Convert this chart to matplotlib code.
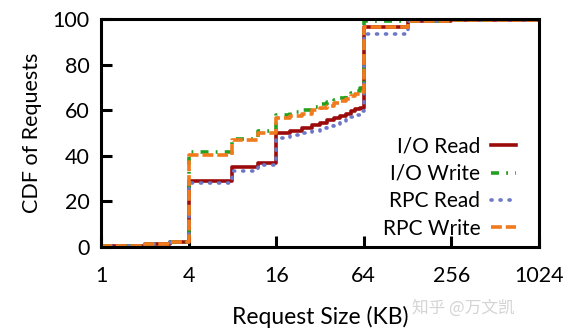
import matplotlib
matplotlib.use("Agg")
import matplotlib.pyplot as plt

# request size (KB) and CDF (%) per traffic class
sizes = [1, 2, 3, 4, 8, 12, 16, 20, 24, 28, 32, 36, 40, 44, 48, 52, 56, 60,
         64, 128, 256, 512, 1024]
io_read = [0.5, 1.2, 2.0, 29, 35, 37, 50, 51, 52, 53.5, 54.5, 55.5, 56.5,
           57.5, 58.5, 59.5, 60.3, 61, 96.5, 99, 99.4, 99.7, 100]
io_write = [0.5, 1.2, 2.0, 41.5, 47.5, 51, 58, 59, 60, 61.5, 62.5, 63.5,
            64.5, 65.5, 66.5, 67.5, 68.5, 69.5, 99, 99.2, 99.5, 99.8, 100]
rpc_read = [0.5, 1.2, 2.0, 28, 33.5, 36, 48, 49, 50, 51, 52, 53, 54, 55, 56,
            57, 58, 59.5, 93.5, 99, 99.4, 99.7, 100]
rpc_write = [0.5, 1.2, 2.0, 40.5, 47, 50, 56.5, 57.5, 58.5, 60, 61, 62, 63,
             64, 65, 66, 67, 68, 96.5, 99, 99.4, 99.7, 100]

xticks = [1, 4, 16, 64, 256, 1024]
yticks = [0, 20, 40, 60, 80, 100]

plt.rcParams["font.family"] = ["Lato", "DejaVu Sans"]

fig = plt.figure(figsize=(5.74, 3.32), dpi=100)
ax = fig.add_axes([0.176, 0.256, 0.763, 0.687])

series = [
    ("I/O Read", io_read, "#9b0b0b", dict(linestyle="-")),
    ("I/O Write", io_write, "#22a01e", dict(dashes=(2.2, 2.0, 0.5, 2.0))),
    ("RPC Read", rpc_read, "#6c78c6", dict(dashes=(0.3, 2.2), dash_capstyle="round")),
    ("RPC Write", rpc_write, "#f07a1c", dict(dashes=(3.0, 1.1))),
]
for label, vals, color, style in series:
    ax.plot(sizes, vals, drawstyle="steps-post", color=color, lw=2.6,
            label=label, **style)

ax.set_xscale("log", base=2)
ax.set_xlim(1, 1024)
ax.set_ylim(0, 100)
ax.set_xticks(xticks)
ax.set_xticklabels([str(t) for t in xticks])
ax.set_yticks(yticks)
ax.minorticks_off()

for side in ax.spines.values():
    side.set_linewidth(2.2)
ax.tick_params(direction="in", length=8, width=2.2, labelsize=15.5)
ax.tick_params(axis="x", pad=14)
ax.tick_params(axis="y", pad=8)

ax.set_xlabel("Request Size (KB)", fontsize=16.5, labelpad=14)
ax.set_ylabel("CDF of Requests", fontsize=15.5, labelpad=8)

ax.legend(loc="lower right", bbox_to_anchor=(0.98, -0.027), frameon=False,
          markerfirst=False, fontsize=15, handlelength=1.2, handletextpad=0.5,
          labelspacing=0.35, borderpad=0.2)

fig.text(0.718, 0.072, "知乎 @万文凯", ha="left", va="center", fontsize=12,
         color="#d4d4d4", family=["Noto Sans CJK SC", "DejaVu Sans"])

fig.savefig("out.png", dpi=100)
